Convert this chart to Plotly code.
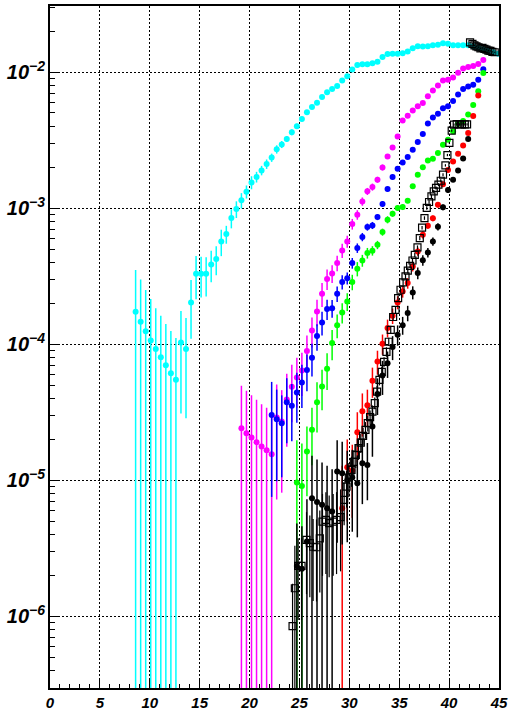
import plotly.graph_objects as go

# ---- data (y values stored as log10) ----
bin_start, bin_width, n_bins = 8.58, 0.505, 73
x_bins = [round(bin_start + bin_width * k, 3) for k in range(n_bins)]

cyan_first = 0
cyan_log10 = [-3.762,-3.835,-3.904,-3.973,-4.036,-4.095,-4.154,-4.213,-4.262,-3.987,
              -4.036,-3.693,-3.482,-3.482,-3.482,-3.414,-3.374,-3.245,-3.191,-3.073,
              -3.007,-2.943,-2.879,-2.811,-2.771,-2.723,-2.676,-2.629,-2.568,-2.532,
              -2.492,-2.443,-2.399,-2.345,-2.296,-2.257,-2.225,-2.183,-2.149,-2.124,
              -2.102,-2.063,-2.032,-1.982,-1.948,-1.943,-1.943,-1.936,-1.924,-1.889,
              -1.867,-1.865,-1.865,-1.862,-1.850,-1.826,-1.811,-1.813,-1.811,-1.804,
              -1.799,-1.789,-1.793,-1.804,-1.804,-1.804,-1.804,-1.811,-1.823,-1.833,
              -1.843,-1.855,-1.865]
cyan_relerr = [1.03,1.04,1.01,1.02,1.0,1.01,1.01,1.04,1.03,0.70,
               0.69,0.46,0.35,0.33,0.32,0.26,0.24,0.22,0.15,0.16,
               0.14,0.13,0.11,0.11,0.09,0.08,0.08,0.07,0.07,0.06,
               0.05,0.05,0.045,0.04,0.04,0.035,0.035,0.03,0.03,0.03,
               0.025,0.025,0.025,0.02,0.02,0.02,0.02,0.02,0.02,0.02,
               0.02,0.02,0.02,0.015,0.015,0.015,0.015,0.015,0.015,0.015,
               0.015,0.015,0.015,0.015,0.015,0.015,0.015,0.015,0.015,0.015,
               0.015,0.015,0.015]

magenta_first = 21
magenta_log10 = [-4.617,-4.654,-4.686,-4.720,-4.752,-4.779,-4.808,-4.539,-4.568,-4.407,
                 -4.313,-4.245,-4.193,-4.05,-3.90,-3.76,-3.63,-3.52,-3.48,-3.404,
                 -3.311,-3.245,-3.117,-3.049,-2.951,-2.877,-2.845,-2.791,-2.701,-2.620,
                 -2.554,-2.473,-2.357,-2.321,-2.282,-2.252,-2.227,-2.179,-2.135,-2.100,
                 -2.062,-2.057,-2.040,-2.005,-1.975,-1.963,-1.955,-1.942,-1.911]
magenta_relerr = [1.05,1.05,1.05,1.05,1.05,1.05,1.05,0.75,0.7,0.55,
                  0.45,0.4,0.35,0.3,0.25,0.22,0.2,0.17,0.15,0.13,
                  0.12,0.1,0.09,0.08,0.07,0.06,0.06,0.05,0.05,0.04,
                  0.04,0.035,0.03,0.03,0.03,0.025,0.025,0.025,0.02,0.02,
                  0.02,0.02,0.02,0.02,0.02,0.02,0.02,0.02,0.02]

blue_first = 27
blue_log10 = [-4.52,-4.551,-4.58,-4.426,-4.453,-4.355,-4.281,-4.19,-4.10,-3.94,
              -3.84,-3.742,-3.735,-3.629,-3.543,-3.515,-3.404,-3.293,-3.212,-3.139,
              -3.127,-3.066,-2.970,-2.860,-2.771,-2.710,-2.664,-2.624,-2.571,-2.514,
              -2.455,-2.379,-2.335,-2.306,-2.267,-2.252,-2.213,-2.166,-2.124,-2.107,
              -2.093,-2.056,-1.980]
blue_relerr = [0.75,0.65,0.6,0.5,0.45,0.4,0.35,0.3,0.27,0.22,
               0.2,0.17,0.15,0.13,0.12,0.1,0.09,0.08,0.07,0.06,
               0.06,0.05,0.05,0.04,0.04,0.035,0.03,0.03,0.03,0.025,
               0.025,0.025,0.02,0.02,0.02,0.02,0.02,0.02,0.02,0.02,
               0.02,0.02,0.02]

green_first = 32
green_log10 = [-5.017,-5.041,-4.789,-4.629,-4.426,-4.311,-4.181,-3.992,-3.86,-3.767,
               -3.686,-3.543,-3.446,-3.385,-3.33,-3.313,-3.27,-3.176,-3.085,-3.041,
               -2.999,-2.992,-2.946,-2.84,-2.754,-2.70,-2.651,-2.637,-2.595,-2.534,
               -2.497,-2.436,-2.38,-2.36,-2.313,-2.242,-2.142,-2.007]
green_relerr = [1.05,1.05,0.53,0.45,0.4,0.33,0.3,0.25,0.2,0.17,
                0.15,0.13,0.12,0.1,0.09,0.08,0.07,0.06,0.06,0.05,
                0.05,0.05,0.04,0.04,0.035,0.03,0.03,0.03,0.03,0.025,
                0.025,0.025,0.02,0.02,0.02,0.02,0.02,0.02]

red_first = 41
red_log10 = [-5.205,-4.904,-4.929,-4.646,-4.492,-4.448,-4.269,-4.127,-3.997,-3.88,
             -3.791,-3.693,-3.612,-3.551,-3.429,-3.318,-3.196,-3.129,-3.075,-2.976,
             -2.824,-2.72,-2.657,-2.6,-2.54,-2.448,-2.324,-2.173]
red_relerr = [1.05,0.6,0.55,0.4,0.35,0.3,0.25,0.2,0.17,0.15,
              0.13,0.11,0.1,0.09,0.08,0.07,0.06,0.05,0.05,0.045,
              0.04,0.035,0.035,0.03,0.03,0.03,0.03,0.025]

black_first = 32
black_log10 = [-5.63,-5.65,-5.45,-5.131,-5.159,-5.18,-5.205,-5.23,-4.936,-4.948,
               -5.0,-4.98,-5.021,-4.874,-4.887,-4.605,-4.365,-4.23,-4.14,-4.02,
               -3.93,-3.86,-3.771,-3.62,-3.477,-3.383,-3.326,-3.245,-3.137,-2.994,
               -2.867,-2.791,-2.724,-2.635,-2.492]
black_relerr = [1.05,1.05,1.05,1.05,1.05,1.05,1.05,1.05,0.7,0.7,
                0.65,0.6,0.6,0.5,0.45,0.4,0.3,0.28,0.22,0.2,
                0.17,0.15,0.13,0.11,0.1,0.09,0.08,0.07,0.06,0.05,
                0.05,0.04,0.04,0.04,0.03]

square_x = [24.31,24.54,24.87,25.21,25.71,26.04,26.37,26.71,27.04,27.31,
            27.65,27.98,28.38,28.72,29.12,29.48,29.72,29.95,30.22,30.45,
            30.65,30.92,31.15,31.38,31.62,31.85,32.08,32.32,32.55,32.78,
            33.02,33.25,33.48,33.72,33.95,34.15,34.39,34.63,34.89,35.13,
            35.39,35.63,35.86,36.09,36.33,36.56,36.83,37.06,37.29,37.53,
            37.76,37.99,38.23,38.46,38.69,38.93,39.16,39.39,39.63,39.83,
            40.03,40.26,40.49,40.76,41.03,41.29,41.57,41.80,42.10,42.34,
            42.54,42.74,42.94,43.14,43.34,43.54,43.74,43.94,44.14,44.34,44.57]
square_log10 = [-6.071,-5.793,-5.629,-5.629,-5.438,-5.462,-5.488,-5.492,-5.426,-5.304,
                -5.291,-5.315,-5.304,-5.291,-5.271,-5.144,-5.046,-4.98,-4.923,-4.865,
                -4.813,-4.764,-4.723,-4.674,-4.629,-4.580,-4.536,-4.495,-4.433,-4.348,
                -4.262,-4.203,-4.13,-4.056,-3.982,-3.894,-3.80,-3.747,-3.661,-3.600,
                -3.546,-3.502,-3.460,-3.424,-3.385,-3.343,-3.289,-3.220,-3.144,-3.073,
                -2.999,-2.955,-2.914,-2.877,-2.852,-2.828,-2.799,-2.754,-2.686,-2.610,
                -2.521,-2.431,-2.387,-2.382,-2.385,-2.385,-2.385,-2.385,-1.782,-1.793,
                -1.804,-1.811,-1.818,-1.826,-1.823,-1.830,-1.835,-1.843,-1.845,-1.852,-1.855]
square_relerr = [1.05,1.05,0.6,0.6,0.6,0.6,0.6,0.6,0.6,0.6,
                 0.6,0.6,0.6,0.6,0.6,0.35,0.3,0.28,0.25,0.22,
                 0.2,0.18,0.16,0.15,0.14,0.13,0.12,0.11,0.1,0.1,
                 0.09,0.09,0.08,0.08,0.07,0.07,0.06,0.06,0.05,0.05,
                 0.05,0.045,0.045,0.04,0.04,0.04,0.035,0.035,0.03,0.03,
                 0.03,0.03,0.03,0.025,0.025,0.025,0.025,0.025,0.02,0.02,
                 0.02,0.02,0.02,0.02,0.02,0.02,0.02,0.02,0.01,0.01,
                 0.01,0.01,0.01,0.01,0.01,0.01,0.01,0.01,0.01,0.01,0.01]

x_tick_vals = [0, 5, 10, 15, 20, 25, 30, 35, 40, 45]

fig = go.Figure()


def add_hist(first, logs, relerr, color):
    xs = x_bins[first:first + len(logs)]
    ys = [10 ** v for v in logs]
    errs = [y * r for y, r in zip(ys, relerr)]
    fig.add_trace(go.Scatter(
        x=xs, y=ys, mode="markers",
        marker=dict(symbol="circle", size=6, color=color, line=dict(width=0)),
        error_y=dict(type="data", array=errs, visible=True, color=color,
                     thickness=1.5, width=0),
        showlegend=False, hoverinfo="x+y"))


add_hist(cyan_first, cyan_log10, cyan_relerr, "#00FFFF")
add_hist(magenta_first, magenta_log10, magenta_relerr, "#FF00FF")
add_hist(blue_first, blue_log10, blue_relerr, "#0000FF")
add_hist(green_first, green_log10, green_relerr, "#00FF00")
add_hist(red_first, red_log10, red_relerr, "#FF0000")
add_hist(black_first, black_log10, black_relerr, "#000000")

sq_y = [10 ** v for v in square_log10]
fig.add_trace(go.Scatter(
    x=square_x, y=sq_y, mode="markers",
    marker=dict(symbol="square-open", size=7, color="#000000", line=dict(width=1.2, color="#000000")),
    error_y=dict(type="data", array=[y * r for y, r in zip(sq_y, square_relerr)],
                 visible=True, color="#000000", thickness=1.2, width=0),
    showlegend=False, hoverinfo="x+y"))

x_font = dict(family="Liberation Sans, Arial, sans-serif", size=15, color="black",
              weight="bold", style="italic")
y_font = dict(family="Liberation Sans, Arial, sans-serif", size=16, color="black",
              weight="bold", style="italic")

fig.update_layout(
    width=515, height=712,
    margin=dict(l=50, r=16, t=6, b=24, autoexpand=False),
    paper_bgcolor="white", plot_bgcolor="white",
    xaxis=dict(range=[0, 45], tickmode="array", tickvals=x_tick_vals,
               ticks="inside", ticklen=9, tickwidth=1, tickcolor="black",
               minor=dict(dtick=1, ticks="inside", ticklen=4, tickcolor="black", showgrid=False),
               showgrid=True, gridcolor="black", griddash="2px,2px", gridwidth=1,
               showline=True, linecolor="black", linewidth=1.5, mirror=True,
               zeroline=False, tickfont=x_font, automargin=False, ticklabelstandoff=0),
    yaxis=dict(type="log", range=[-6.526, -1.515], dtick=1, exponentformat="power",
               ticks="inside", ticklen=10, tickwidth=1, tickcolor="black",
               minor=dict(dtick="D1", ticks="inside", ticklen=5, tickcolor="black", showgrid=False),
               showgrid=True, gridcolor="black", griddash="2px,2px", gridwidth=1,
               showline=True, linecolor="black", linewidth=1.5, mirror=True,
               zeroline=False, tickfont=y_font, automargin=False),
)

fig.write_html("out.html", config={"displayModeBar": False},
               post_script="document.body.style.margin='0';document.body.style.padding='0';")
